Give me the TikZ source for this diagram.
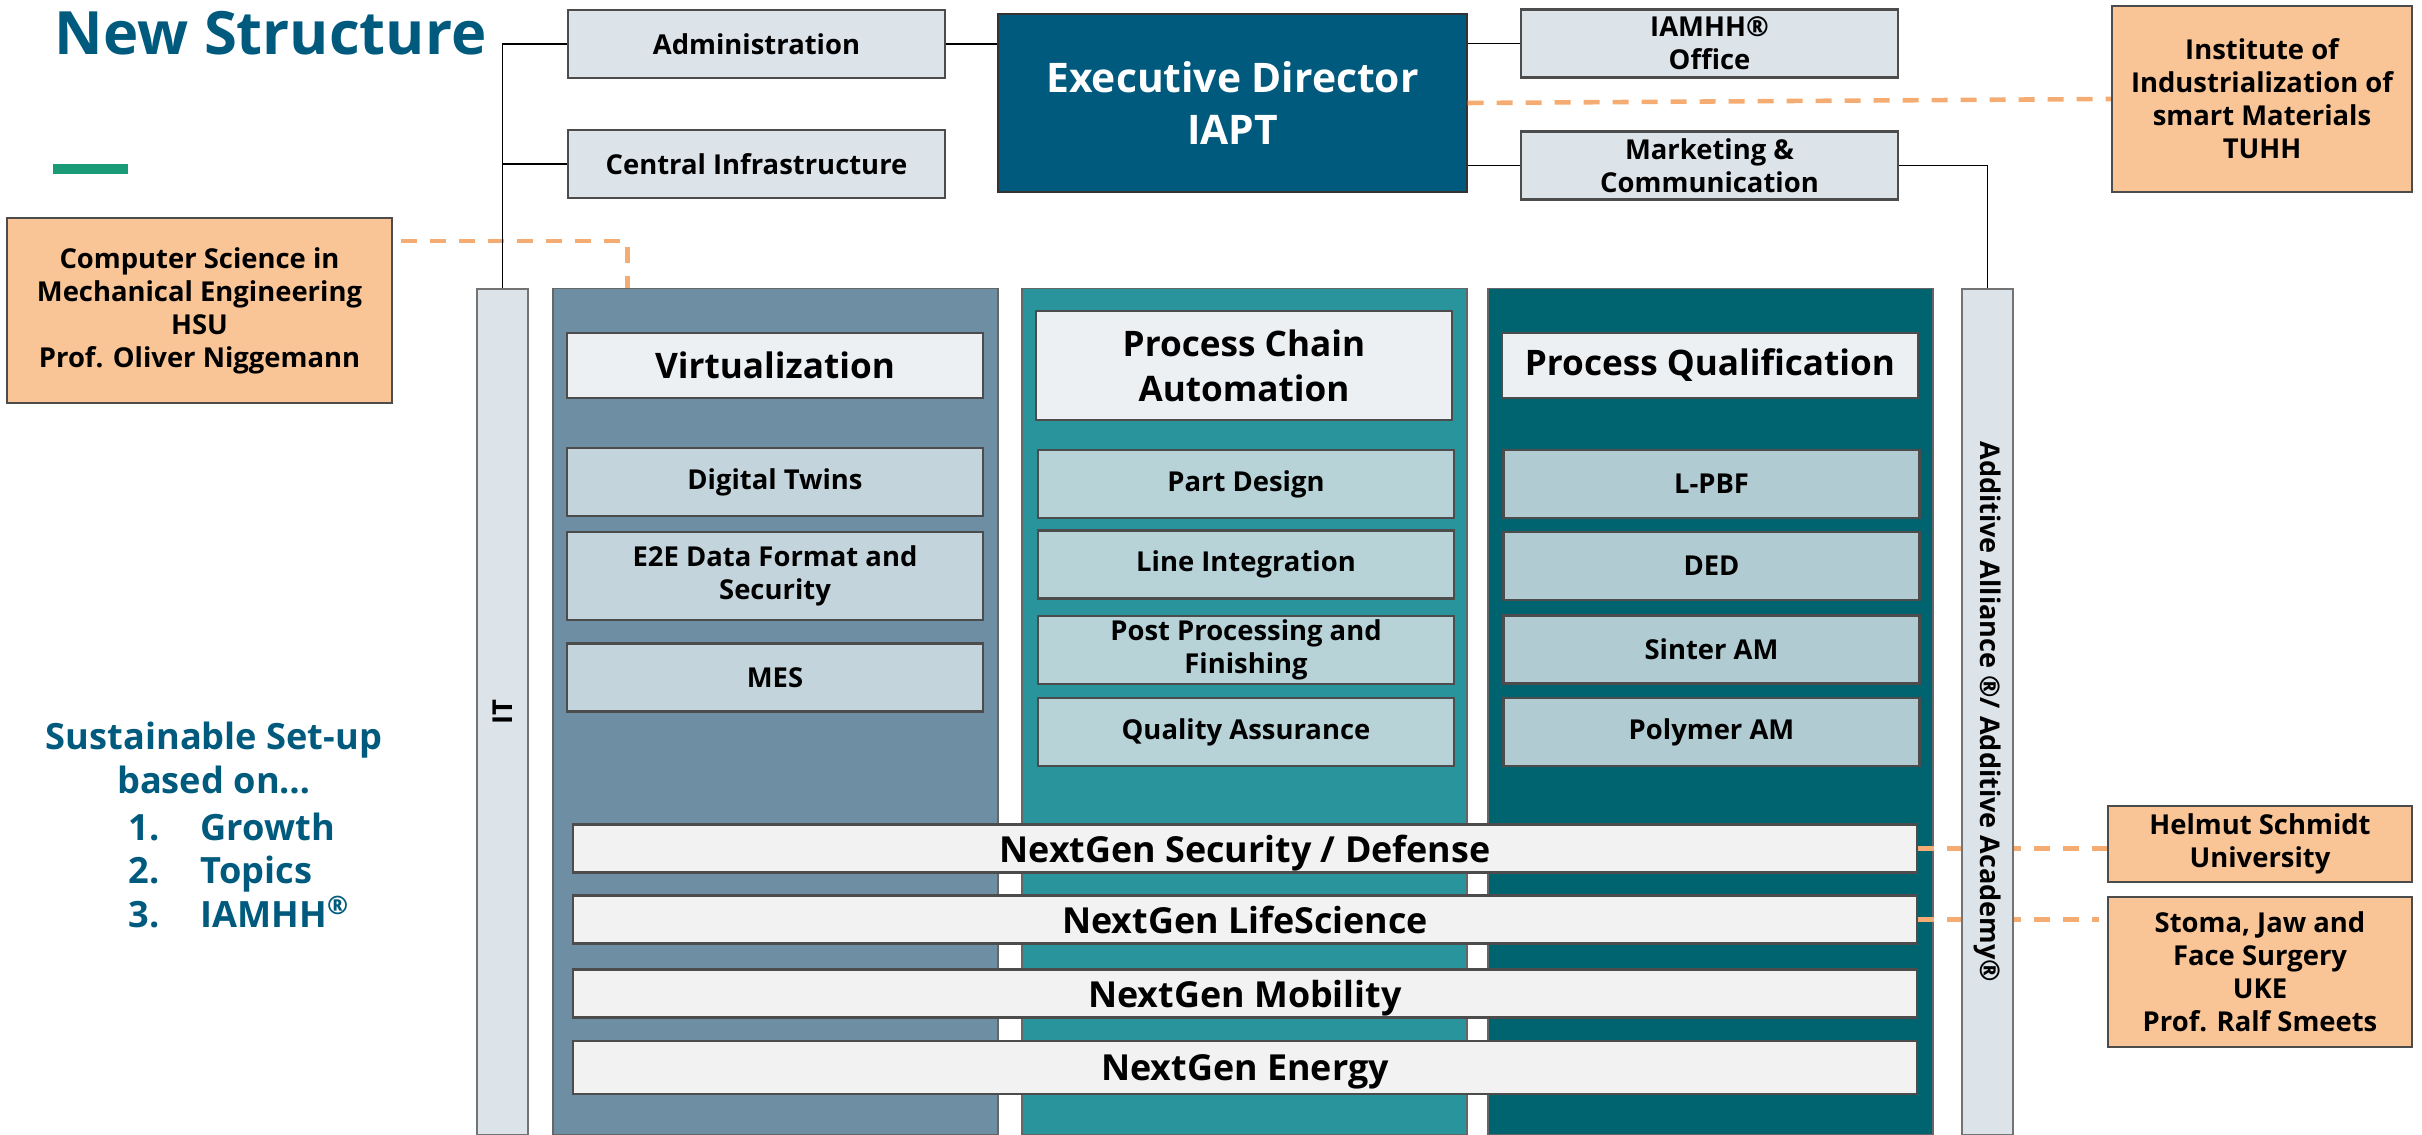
\documentclass[tikz,border=0pt]{standalone}
\usepackage{fontspec}
\setmainfont{Open Sans}

\definecolor{iaptBlue}{RGB}{0,90,125}
\definecolor{staffGray}{RGB}{220,227,233}
\definecolor{virtCol}{RGB}{110,143,163}
\definecolor{chainCol}{RGB}{42,148,156}
\definecolor{qualCol}{RGB}{0,100,112}
\definecolor{titleFill}{RGB}{236,240,243}
\definecolor{virtItem}{RGB}{196,212,220}
\definecolor{chainItem}{RGB}{184,211,216}
\definecolor{qualItem}{RGB}{176,203,209}
\definecolor{barFill}{RGB}{242,242,242}
\definecolor{partnerFill}{RGB}{249,196,150}
\definecolor{partnerLine}{RGB}{245,172,114}
\definecolor{accentGreen}{RGB}{26,155,119}

\begin{document}
\begin{tikzpicture}[
    every node/.style={align=center, inner sep=0pt, font=\bfseries\fontsize{7.8}{9.4}\selectfont},
    staffBox/.style={rectangle, draw=black!70, line width=0.6pt, fill=staffGray, minimum width=3.77cm, minimum height=0.68cm},
    partnerBox/.style={rectangle, draw=black!70, line width=0.6pt, fill=partnerFill},
    pillar/.style={rectangle, draw=black!60, line width=0.4pt, minimum width=4.45cm, minimum height=8.46cm, anchor=north},
    columnTitle/.style={rectangle, draw=black!70, line width=0.6pt, fill=titleFill, minimum width=4.16cm, minimum height=0.65cm, font=\bfseries\fontsize{10}{12.8}\selectfont},
    topicBox/.style={rectangle, draw=black!70, line width=0.6pt, minimum width=4.16cm, minimum height=0.68cm},
    nextGen/.style={rectangle, draw=black!70, line width=0.6pt, fill=barFill, minimum width=13.44cm, minimum height=0.48cm, text depth=0pt, font=\bfseries\fontsize{10.2}{12}\selectfont},
    sideBar/.style={rectangle, draw=black!55, line width=0.5pt, fill=staffGray, minimum width=0.51cm, minimum height=8.46cm, anchor=north},
    partnerLink/.style={partnerLine, line width=1.3pt, dash pattern=on 0.16cm off 0.13cm},
    orgLine/.style={black, line width=0.5pt}
]
\useasboundingbox (0,0) rectangle (24.22,-11.35);

% Header
\node[anchor=base west, text=iaptBlue, font=\bfseries\fontsize{17}{20}\selectfont] (title) at (0.54,-0.55) {New Structure};
\fill[accentGreen] (0.53,-1.64) rectangle (1.28,-1.74);

% Staff units
\node[staffBox] (admin) at (7.565,-0.44) {Administration};
\node[staffBox] (central) at (7.565,-1.64) {Central Infrastructure};
\node[rectangle, draw=black!80, fill=iaptBlue, text=white, minimum width=4.69cm, minimum height=1.78cm, font=\bfseries\fontsize{11.6}{15}\selectfont] (exec) at (12.325,-1.03) {Executive Director\\IAPT};
\node[staffBox] (iamhh) at (17.095,-0.435) {IAMHH®\\Office};
\node[staffBox] (marketing) at (17.095,-1.655) {Marketing \&\\Communication};

% Partners
\node[partnerBox, minimum width=3.0cm, minimum height=1.86cm] (tuhh) at (22.62,-0.99) {Institute of\\Industrialization of\\smart Materials\\TUHH};
\node[partnerBox, minimum width=3.85cm, minimum height=1.85cm] (hsu) at (1.995,-3.105) {Computer Science in\\Mechanical Engineering\\HSU\\Prof. Oliver Niggemann};
\node[partnerBox, minimum width=3.04cm, minimum height=0.76cm] (hsuUni) at (22.6,-8.44) {Helmut Schmidt\\University};
\node[partnerBox, minimum width=3.04cm, minimum height=1.5cm] (uke) at (22.6,-9.72) {Stoma, Jaw and\\Face Surgery\\UKE\\Prof. Ralf Smeets};

% Pillars
\node[pillar, fill=virtCol] (virt) at (7.755,-2.88) {};
\node[pillar, fill=chainCol] (chain) at (12.445,-2.88) {};
\node[pillar, fill=qualCol] (qual) at (17.105,-2.88) {};

\node[columnTitle] (virtTitle) at (7.75,-3.655) {Virtualization};
\node[columnTitle, minimum height=1.09cm] (chainTitle) at (12.44,-3.655) {Process Chain\\Automation};
\node[columnTitle] (qualTitle) at (17.10,-3.655) {Process Qualification};

\node[topicBox, fill=virtItem] (twins) at (7.75,-4.82) {Digital Twins};
\node[topicBox, fill=virtItem, minimum height=0.88cm] (e2e) at (7.75,-5.76) {E2E Data Format and\\Security};
\node[topicBox, fill=virtItem] (mes) at (7.75,-6.775) {MES};

\node[topicBox, fill=chainItem] (design) at (12.46,-4.84) {Part Design};
\node[topicBox, fill=chainItem] (integration) at (12.46,-5.645) {Line Integration};
\node[topicBox, fill=chainItem] (post) at (12.46,-6.50) {Post Processing and\\Finishing};
\node[topicBox, fill=chainItem] (quality) at (12.46,-7.32) {Quality Assurance};

\node[topicBox, fill=qualItem] (lpbf) at (17.115,-4.84) {L-PBF};
\node[topicBox, fill=qualItem] (ded) at (17.115,-5.66) {DED};
\node[topicBox, fill=qualItem] (sinter) at (17.115,-6.495) {Sinter AM};
\node[topicBox, fill=qualItem] (polymer) at (17.115,-7.32) {Polymer AM};

% Cross-cutting fields
\node[nextGen] (security) at (12.45,-8.485) {NextGen Security / Defense};
\node[nextGen] (life) at (12.45,-9.195) {NextGen LifeScience};
\node[nextGen] (mobility) at (12.45,-9.935) {NextGen Mobility};
\node[nextGen, minimum height=0.53cm] (energy) at (12.45,-10.675) {NextGen Energy};

% Set-up text
\node[text=iaptBlue, font=\bfseries\fontsize{10.3}{12.3}\selectfont] (setup) at (2.14,-7.58) {Sustainable Set-up\\based on…};
\node[anchor=north west, align=left, text=iaptBlue, font=\bfseries\fontsize{10.3}{12.3}\selectfont] (aims) at (1.28,-8.125) {\makebox[0.72cm][l]{1.}Growth\\\makebox[0.72cm][l]{2.}Topics\\\makebox[0.72cm][l]{3.}IAMHH\textsuperscript{®}};

% Partner links
\draw[partnerLink] (exec.east) -- (tuhh.west);
\draw[partnerLink] ([xshift=0.8mm,yshift=-2.4mm]hsu.north east) -| ([xshift=7.5mm]virt.north west);
\draw[partnerLink] (security.east) -- (security.east -| hsuUni.west);
\draw[partnerLink] (life.east) -- ([xshift=-0.8mm]life.east -| uke.west);

% Side bars
\node[sideBar] (it) at (5.025,-2.88) {};
\node[sideBar] (aa) at (19.875,-2.88) {};
\node[rotate=90] (itLabel) at (it.center) {IT};
\node[rotate=-90, font=\bfseries\fontsize{7.7}{9}\selectfont] (aaLabel) at (aa.center) {Additive Alliance ®/ Additive Academy®};

% Lines
\draw[orgLine] (admin.west) -| (it.north);
\draw[orgLine] (central.west) -- (central.west -| it.north);
\draw[orgLine] (admin.east) -- (admin.east -| exec.west);
\draw[orgLine] (iamhh.west) -- (iamhh.west -| exec.east);
\draw[orgLine] (marketing.west) -- (marketing.west -| exec.east);
\draw[orgLine] (marketing.east) -| (aa.north);

\end{tikzpicture}
\end{document}
